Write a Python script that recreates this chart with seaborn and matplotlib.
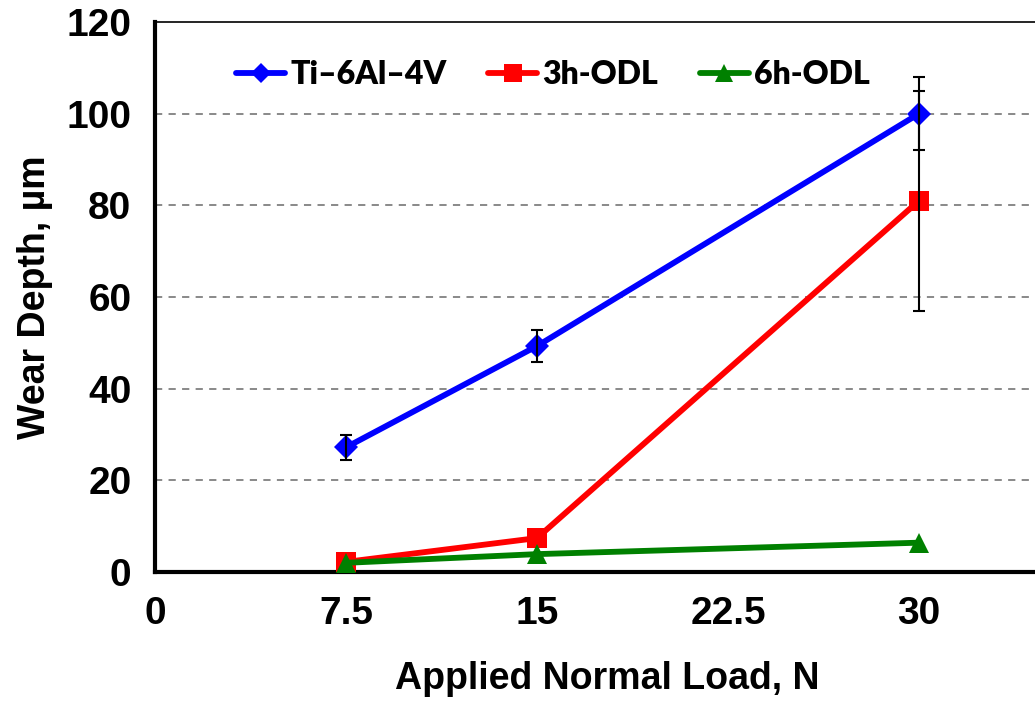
import numpy as np
import pandas as pd
import matplotlib.pyplot as plt
import seaborn as sns

sns.set_theme(style='white')
plt.rcParams['font.family'] = ['Liberation Sans', 'DejaVu Sans']
plt.rcParams['font.weight'] = 'bold'
plt.rcParams['text.color'] = 'black'
plt.rcParams['axes.labelcolor'] = 'black'

# --- data ---
loads = [7.5, 15, 30]
ti_depth = [27.2, 49.3, 100.0]
ti_err = [2.8, 3.5, 8.0]
odl3_depth = [2.2, 7.4, 81.0]
odl3_err = [0.0, 0.0, 24.0]
odl6_depth = [2.0, 3.9, 6.4]
odl6_err = [0.0, 0.0, 0.0]

series = ['Ti\u20136Al\u20134V', '3h-ODL', '6h-ODL']
colors = ['#0000FF', '#FF0000', '#008000']
markers = ['D', 's', '^']
msizes = [12, 14.5, 15]
x_ticks = [0, 7.5, 15, 22.5, 30]
x_ticklabels = ['0', '7.5', '15', '22.5', '30']
y_ticks = [0, 20, 40, 60, 80, 100, 120]

df = pd.DataFrame({
    'load': loads * 3,
    'depth': ti_depth + odl3_depth + odl6_depth,
    'err': ti_err + odl3_err + odl6_err,
    'series': np.repeat(series, len(loads)),
})

fig = plt.figure(figsize=(10.35, 7.02), dpi=100)
ax = fig.add_axes([155 / 1035, 130 / 702, 880 / 1035, 550 / 702])

# dashed grey grid lines (not at 0 / 120)
for yv in y_ticks[1:-1]:
    ax.axhline(yv, color='#808080', lw=1.3, ls=(0, (4, 3.5)), zorder=0)

for name, col, mk, ms in zip(series, colors, markers, msizes):
    sub = df[df['series'] == name]
    sns.lineplot(data=sub, x='load', y='depth', ax=ax, color=col, lw=4.2,
                 marker=mk, markersize=ms, markeredgewidth=0,
                 label=name, zorder=3)
    e = sub[sub['err'] > 0]
    if len(e):
        ax.errorbar(e['load'], e['depth'], yerr=e['err'], fmt='none',
                    ecolor='black', elinewidth=1.5, capsize=4.5,
                    capthick=1.5, zorder=4)

ax.set_xlim(0, 880 / (191 / 7.5))
ax.set_ylim(0, 120)
ax.set_xticks(x_ticks)
ax.set_xticklabels(x_ticklabels)
ax.set_yticks(y_ticks)

for s in ['left', 'bottom']:
    ax.spines[s].set_linewidth(3)
    ax.spines[s].set_color('black')
ax.spines['top'].set_linewidth(1.2)
ax.spines['top'].set_color('black')
ax.spines['right'].set_visible(False)

ax.tick_params(axis='both', which='major', direction='out', length=7,
               width=2.6, color='black', labelsize=28, labelcolor='black')
ax.tick_params(axis='x', pad=10)
ax.tick_params(axis='y', pad=10)
for lab in ax.get_xticklabels() + ax.get_yticklabels():
    lab.set_fontweight('bold')

ax.set_xlabel('Applied Normal Load, N', fontsize=27, fontweight='bold',
              va='top', color='black')
ax.set_ylabel('Wear Depth, \u00b5m', fontsize=27, fontweight='bold',
              color='black')
ax.xaxis.set_label_coords(0.514, -0.162)
ax.yaxis.set_label_coords(-0.116, 0.5)

leg = ax.legend(loc='center', bbox_to_anchor=(0.452, 0.905), ncol=3,
                frameon=False, handlelength=1.55, handletextpad=0.15,
                columnspacing=1.3, markerscale=0.85,
                prop={'family': ['Lato', 'DejaVu Sans'], 'weight': 'heavy',
                      'size': 23})
for t in leg.get_texts():
    t.set_color('black')

fig.savefig('out.png', dpi=100)
